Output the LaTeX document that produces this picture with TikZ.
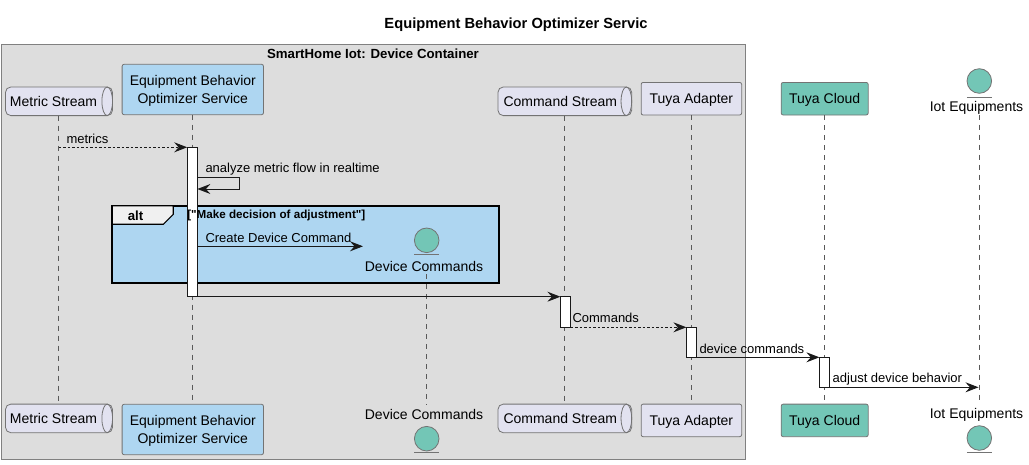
\documentclass[tikz,border=0pt]{standalone}
\usepackage{fontspec}
\setmainfont{Liberation Sans}
\newfontfamily\guardfont{Liberation Sans}
\usetikzlibrary{arrows.meta}

\definecolor{boxgrey}{HTML}{DDDDDD}
\definecolor{partlilac}{HTML}{E2E2F0}
\definecolor{optblue}{HTML}{AED6F1}
\definecolor{cloudteal}{HTML}{73C6B6}

\begin{document}
\begin{tikzpicture}[x=1pt, y=-1pt,
    every node/.style = {inner sep=0pt, outer sep=0pt, font=\fontsize{14}{18.3}\selectfont, align=center},
    partbox/.style = {draw=black!55, line width=0.8pt, rectangle, rounded corners=2pt, text depth=0pt},
    queuebox/.style = {draw=black!55, line width=0.8pt, rectangle, rounded corners=5.3pt, fill=partlilac,
                    minimum height=28.6pt},
    queuecap/.style = {draw=black!55, line width=0.8pt, x radius=5.3pt, y radius=14.3pt},
    entitydot/.style = {circle, draw=black!55, line width=0.8pt, fill=cloudteal, minimum size=24.6pt},
    entitybar/.style = {draw=black!55, line width=0.8pt},
    lifeline/.style = {draw=black!65, line width=0.8pt, dash pattern=on 5pt off 5pt},
    actbar/.style = {rectangle, draw=black!90, fill=white, line width=1pt, minimum width=10.2pt},
    msg/.style = {draw=black!90, line width=1pt, -{Stealth[length=13pt, width=10pt, inset=4.5pt]}},
    msgdash/.style = {msg, dash pattern=on 2.5pt off 2pt},
    msglabel/.style = {anchor=west, font=\fontsize{13}{15}\selectfont},
    boldlabel/.style = {font=\bfseries\fontsize{13.25}{15}\selectfont}
    ]
    \useasboundingbox (0,0) rectangle (1029,464);

    \node [boldlabel, font=\bfseries\fontsize{14.7}{16}\selectfont] (title) at (516,25) {Equipment Behavior Optimizer Servic};

    \node [rectangle, draw=black!50, fill=boxgrey, line width=1pt, minimum width=744.4pt, minimum height=415pt] (container) at (373.5,251.8) {};
    \node [boldlabel] (containerlabel) at (373,53.5) {SmartHome Iot: Device Container};

    \node [rectangle, draw=black, fill=optblue, line width=1.8pt, minimum width=386.4pt, minimum height=77.6pt] (altbox) at (305.5,244.5) {};
    \coordinate (alttab) at (112.3,205.7);
    \draw [draw=black, fill=black!6, line width=1.2pt] (alttab) -- (173.3,205.7) -- (173.3,214.3) -- (163.3,224.3) -- (112.3,224.3) -- cycle;
    \node [boldlabel] (altlabel) at (135.5,215.5) {alt};

    \node [queuebox, minimum width=107pt] (metric) at (59,101.3) {Metric Stream\hspace*{11pt}};
    \draw [queuecap] ([xshift=-5.3pt]metric.east) ellipse [];
    \node [partbox, fill=optblue, minimum width=141.4pt, minimum height=50.4pt] (optimizer) at (192.8,89.5) {Equipment Behavior\\Optimizer Service};
    \node [queuebox, minimum width=133.7pt] (cmdstream) at (564.8,101.3) {Command Stream\hspace*{9pt}};
    \draw [queuecap] ([xshift=-5.3pt]cmdstream.east) ellipse [];
    \node [partbox, fill=partlilac, minimum width=100.5pt, minimum height=32.6pt] (tuya) at (691.4,98.7) {Tuya Adapter};
    \node [partbox, fill=cloudteal, minimum width=87pt, minimum height=32.6pt] (cloud) at (824.7,98.7) {Tuya Cloud};
    \node [entitydot] (iotdot) at (979.3,81) {};
    \node (iot) at (976.5,107.5) {Iot Equipments};
    \draw [entitybar] (966.8,97) -- (991.8,97);

    \node [queuebox, minimum width=107pt] (metricb) at (59,418.4) {Metric Stream\hspace*{11pt}};
    \draw [queuecap] ([xshift=-5.3pt]metricb.east) ellipse [];
    \node [partbox, fill=optblue, minimum width=141.4pt, minimum height=50.4pt] (optimizerb) at (192.8,429.5) {Equipment Behavior\\Optimizer Service};
    \node (devb) at (424,414.5) {Device Commands};
    \node [entitydot] (devbdot) at (426.7,438.7) {};
    \draw [entitybar] (414.2,452.3) -- (439.2,452.3);
    \node [queuebox, minimum width=133.7pt] (cmdstreamb) at (564.8,418.4) {Command Stream\hspace*{9pt}};
    \draw [queuecap] ([xshift=-5.3pt]cmdstreamb.east) ellipse [];
    \node [partbox, fill=partlilac, minimum width=100.5pt, minimum height=32.6pt] (tuyab) at (691.4,420.4) {Tuya Adapter};
    \node [partbox, fill=cloudteal, minimum width=87pt, minimum height=32.6pt] (cloudb) at (824.7,420.4) {Tuya Cloud};
    \node (iotb) at (976.5,414.5) {Iot Equipments};
    \node [entitydot] (iotbdot) at (979.3,438) {};
    \draw [entitybar] (966.8,452) -- (991.8,452);

    \node [entitydot] (devdot) at (426.7,240.3) {};
    \draw [entitybar] (414.2,254.3) -- (439.2,254.3);
    \node (dev) at (424,266.5) {Device Commands};

    \coordinate (metrictop) at (58.5,115.7);
    \coordinate (metricbot) at (58.5,404);
    \coordinate (cmdtop) at (564.3,115.7);
    \coordinate (cmdbot) at (564.3,404);
    \coordinate (devtop) at (426.7,274);
    \coordinate (devbot) at (426.7,405);
    \coordinate (iottop) at (979.3,114.5);
    \coordinate (iotbot) at (979.3,404);

    \draw [lifeline] (metrictop) -- (metricbot);
    \draw [lifeline] (optimizer.south) -- (optimizerb.north);
    \draw [lifeline] (devtop) -- (devbot);
    \draw [lifeline] (cmdtop) -- (cmdbot);
    \draw [lifeline] (tuya.south) -- (tuyab.north);
    \draw [lifeline] (cloud.south) -- (cloudb.north);
    \draw [lifeline] (iottop) -- (iotbot);

    \node [actbar, minimum height=149.4pt] (optact) at (192.3,222) {};
    \node [actbar, minimum height=30.6pt] (cmdact) at (565.5,312) {};
    \node [actbar, minimum height=30pt] (tuyaact) at (691.5,342.3) {};
    \node [actbar, minimum height=30pt] (cloudact) at (824.5,372.3) {};

    \coordinate (metricsrc) at (58.5,147.3);
    \coordinate (selfsrc) at (197.4,177.3);
    \coordinate (selfdst) at (197.4,189);
    \coordinate (createsrc) at (197.4,246.3);
    \coordinate (createdst) at (363,246.3);
    \coordinate (iotdst) at (978.5,387.3);

    \draw [msgdash] (metricsrc) -- (optact.north west);
    \draw [msg] (selfsrc) -- (239.5,177.3) -- (239.5,189) -- (selfdst);
    \draw [msg] (createsrc) -- (createdst);
    \draw [msg] (optact.south east) -- (cmdact.north west);
    \draw [msgdash] (cmdact.south east) -- (tuyaact.north west);
    \draw [msg] (tuyaact.south east) -- (cloudact.north west);
    \draw [msg] (cloudact.south east) -- (iotdst);

    \node [msglabel] (metricslabel) at (66.5,139.3) {metrics};
    \node [msglabel] (analyzelabel) at (205.5,169.3) {analyze metric flow in realtime};
    \node [anchor=west, font=\guardfont\bfseries\fontsize{11.65}{13}\selectfont] (guardlabel) at (187.3,215.5) {["Make decision of adjustment"]};
    \node [msglabel] (createlabel) at (205.5,237.8) {Create Device Command};
    \node [msglabel] (commandslabel) at (572.5,317.8) {Commands};
    \node [msglabel] (devicelabel) at (699.5,348.8) {device commands};
    \node [msglabel] (adjustlabel) at (832.7,378.8) {adjust device behavior};
\end{tikzpicture}
\end{document}
